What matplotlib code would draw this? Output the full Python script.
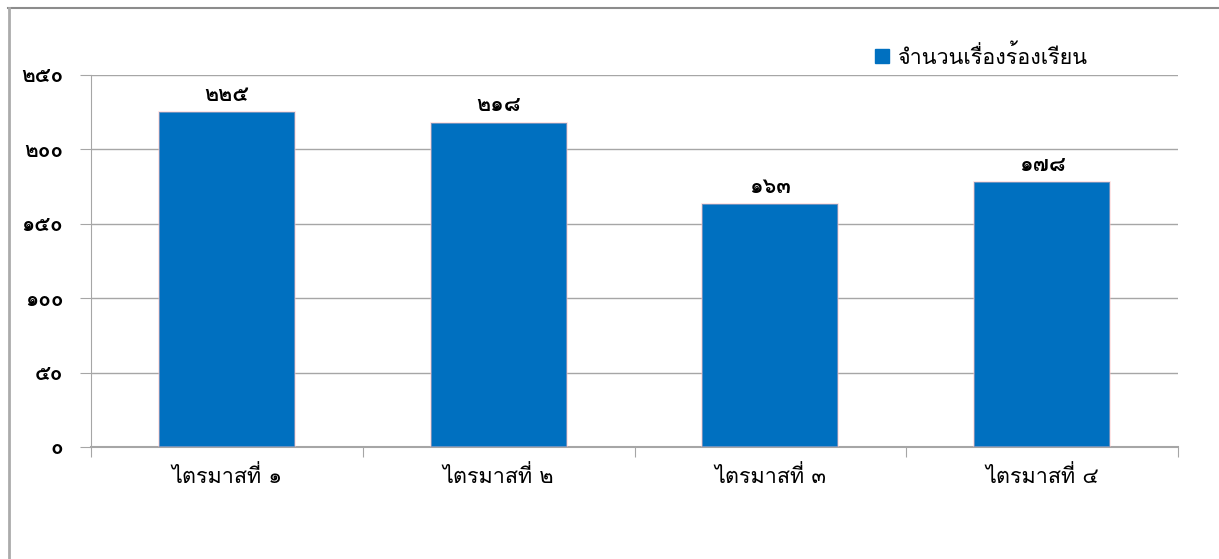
import matplotlib
matplotlib.use("Agg")
import matplotlib.pyplot as plt
from matplotlib.lines import Line2D

# data
categories = ["ไตรมาสที่ ๑", "ไตรมาสที่ ๒", "ไตรมาสที่ ๓", "ไตรมาสที่ ๔"]
values = [225, 218, 163, 178]
yticks = [0, 50, 100, 150, 200, 250]
series_name = "จำนวนเรื่องร้องเรียน"

THAI_DIGITS = str.maketrans("0123456789", "๐๑๒๓๔๕๖๗๘๙")


def thai_num(n):
    return str(n).translate(THAI_DIGITS)


# Loma places the tone marks correctly without shaping
plt.rcParams['font.family'] = ['Loma', 'Noto Sans Thai', 'DejaVu Sans']

fig = plt.figure(figsize=(12.19, 5.59), dpi=100)
ax = fig.add_axes([91 / 1219, 1 - 447 / 559, (1178 - 91) / 1219, (447 - 75) / 559])

grid_col = "#a6a6a6"
bar_col = "#0070c0"

x = list(range(len(categories)))
bars = ax.bar(x, values, width=0.5, color=bar_col, zorder=3,
              edgecolor=(1.0, 0.75, 0.75, 0.5), linewidth=1.2)

for b, v in zip(bars, values):
    ax.text(b.get_x() + b.get_width() / 2, v + 5, thai_num(v),
            ha="center", va="bottom", fontsize=15.5, fontweight="bold")

ax.set_xlim(-0.5, len(categories) - 0.5)
ax.set_ylim(0, 250)
ax.set_yticks(yticks)
ax.set_yticklabels([thai_num(t) for t in yticks], fontsize=15, fontweight="bold")
ax.yaxis.grid(True, color=grid_col, linewidth=1)
ax.set_axisbelow(True)

# category labels between boundary ticks
ax.set_xticks([i - 0.5 for i in range(len(categories) + 1)])
ax.set_xticklabels([])
ax.set_xticks(x, minor=True)
ax.set_xticklabels(categories, minor=True, fontsize=15.5)
ax.tick_params(axis="x", which="minor", length=0, pad=14)
ax.tick_params(axis="x", which="major", length=7, color=grid_col, direction="out")
ax.tick_params(axis="y", length=8, color=grid_col, pad=12)

for s in ["top", "right"]:
    ax.spines[s].set_visible(False)
ax.spines["left"].set_color(grid_col)
ax.spines["bottom"].set_color(grid_col)
ax.spines["bottom"].set_linewidth(1.5)

handle = Line2D([], [], marker="s", linestyle="none", markersize=9.5, color=bar_col)
leg = fig.legend([handle], [series_name], loc="upper left",
                 bbox_to_anchor=(871 / 1219, 1 - 45 / 559), frameon=False,
                 handlelength=1.0, handletextpad=0.25, borderpad=0, borderaxespad=0,
                 prop={"size": 15.5})

# outer frame (top and left edges)
fig.add_artist(Line2D([8 / 1219, 1], [1 - 8 / 559, 1 - 8 / 559], color="#8c8c8c", linewidth=1.5))
fig.add_artist(Line2D([9 / 1219, 9 / 1219], [0, 1 - 8 / 559], color="#ababab", linewidth=2))

fig.savefig("out.png", dpi=100)
